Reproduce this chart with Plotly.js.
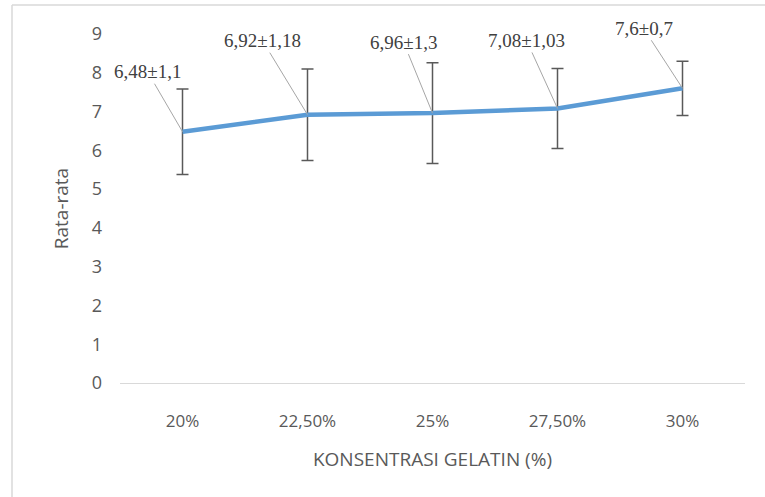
<!DOCTYPE html>
<html>
<head>
<meta charset="utf-8">
<script src="https://cdn.plot.ly/plotly-3.0.1.min.js"></script>
<style>html,body{margin:0;padding:0;background:#fff;}#chart{width:765px;height:497px;}</style>
</head>
<body>
<div id="chart"></div>
<script>
const categories = ["20%", "22,50%", "25%", "27,50%", "30%"];
const means = [6.48, 6.92, 6.96, 7.08, 7.6];
const sds = [1.1, 1.18, 1.3, 1.03, 0.7];
const labels = ["6,48±1,1", "6,92±1,18", "6,96±1,3", "7,08±1,03", "7,6±0,7"];
const labelOffsetX = [-35, -45, -29, -31, -39];
const labelOffsetY = [-60, -74, -71, -68, -60];

const trace = {
  x: categories,
  y: means,
  type: 'scatter',
  mode: 'lines',
  line: {color: '#5B9BD5', width: 4.5},
  error_y: {type: 'data', array: sds, visible: true, color: '#595959', thickness: 1.5, width: 6},
  hoverinfo: 'skip'
};

const annotations = categories.map((c, i) => ({
  x: c, y: means[i], xref: 'x', yref: 'y',
  text: labels[i], showarrow: true, arrowhead: 0, arrowwidth: 1, arrowcolor: '#A6A6A6',
  ax: labelOffsetX[i], ay: labelOffsetY[i],
  font: {family: 'Liberation Serif, Times New Roman, serif', size: 19, color: '#404040'}
}));

const layout = {
  width: 765, height: 497,
  margin: {l: 120, r: 20, t: 34, b: 114},
  paper_bgcolor: '#fff', plot_bgcolor: '#fff',
  showlegend: false,
  xaxis: {
    type: 'category', range: [-0.5, 4.5],
    showline: true, linecolor: '#D9D9D9', linewidth: 1.3,
    showgrid: false, zeroline: false, ticks: '',
    tickfont: {family: 'Open Sans, sans-serif', size: 17, color: '#595959'},
    ticklabelstandoff: 22,
    title: {text: 'KONSENTRASI GELATIN (%)', font: {family: 'Open Sans, sans-serif', size: 19, color: '#595959'}, standoff: 22}
  },
  yaxis: {
    range: [0, 9], dtick: 1, showgrid: false, zeroline: false, showline: false, ticks: '',
    tickfont: {family: 'Open Sans, sans-serif', size: 18, color: '#595959'},
    ticklabelstandoff: 17,
    title: {text: 'Rata-rata', font: {family: 'Open Sans, sans-serif', size: 19, color: '#595959'}, standoff: 18}
  },
  annotations: annotations,
  shapes: [
    {type: 'line', xref: 'paper', yref: 'paper', x0: -0.1728, x1: 1.04, y0: 1.083, y1: 1.083, line: {color: '#D9D9D9', width: 1.5}},
    {type: 'line', xref: 'paper', yref: 'paper', x0: -0.1728, x1: -0.1728, y0: 1.083, y1: -0.35, line: {color: '#D9D9D9', width: 1.5}}
  ]
};

Plotly.newPlot('chart', [trace], layout, {displayModeBar: false, staticPlot: true});
</script>
</body>
</html>
